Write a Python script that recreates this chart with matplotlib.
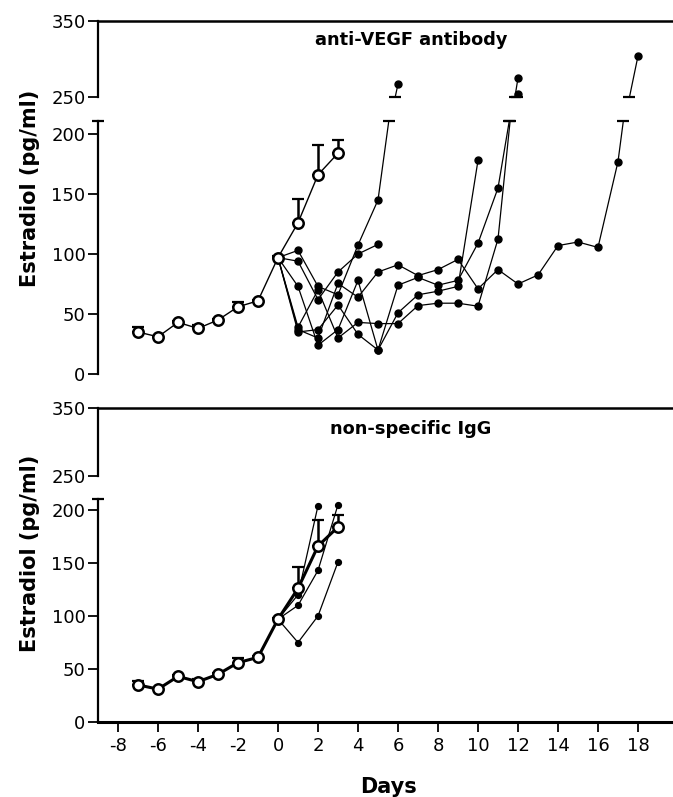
import numpy as np
import matplotlib
matplotlib.use("Agg")
import matplotlib.pyplot as plt

plt.rcParams["axes.unicode_minus"] = False

# control group (mean +/- sem), open circles
ctrl_days = [-7, -6, -5, -4, -3, -2, -1, 0, 1, 2, 3]
ctrl_mean = [35, 31, 43, 38, 45, 56, 61, 97, 126, 166, 184]
ctrl_sem = [4, 1, 1, 2.5, 1, 4, 1, 1, 20, 25, 11]

# anti-VEGF antibody, individual animals (day 0 onwards)
vegf_a = [97, 103, 73, 66, 107.5, 145, 267]
vegf_b = [97, 94, 62, 85, 100, 108]
vegf_c = [97, 73, 24, 37, 78, 20, 74, 80.5, 74, 78, 109, 155, 254]
vegf_d = [97, 39, 70, 30, 43, 42, 42, 57, 59, 59, 56.5, 112.5, 275]
vegf_e = [97, 37, 30, 75.5, 64, 85, 91, 82, 87, 95.5, 71, 87, 75, 82.5, 107, 110, 105.5, 177, 304]
vegf_f = [97, 35, 37, 57.5, 33, 20, 51, 66, 69, 73, 178]

# non-specific IgG, individual animals
igg_a = [97, 120, 204]
igg_b = [97, 110, 143, 205]
igg_c = [97, 75, 100, 151]

W, H = 673, 797
fig = plt.figure(figsize=(W / 100, H / 100), dpi=100)


def rect(top_px, bot_px):
    left = 98
    return [left / W, 1 - bot_px / H, (W - left) / W, (bot_px - top_px) / H]


def crossing(vals, level):
    # x positions where a series passes a given level (going up)
    xs = []
    for i in range(len(vals) - 1):
        y0, y1 = vals[i], vals[i + 1]
        if y0 < level <= y1:
            xs.append(i + (level - y0) / (y1 - y0))
    return xs


def style(ax, lo, hi, ticks, top=False, xaxis=False):
    ax.set_xlim(-9, 19.75)
    ax.set_ylim(lo, hi)
    ax.set_yticks(ticks)
    ax.tick_params(axis="y", direction="out", length=7, width=1.3, labelsize=13, pad=2)
    ax.spines["right"].set_visible(False)
    ax.spines["left"].set_linewidth(1.6)
    ax.spines["top"].set_visible(top)
    ax.spines["top"].set_linewidth(1.8)
    ax.spines["bottom"].set_visible(xaxis)
    ax.spines["bottom"].set_linewidth(2.2)
    ax.patch.set_alpha(0)
    if xaxis:
        ax.set_xticks(range(-8, 19, 2))
        ax.tick_params(axis="x", direction="out", length=7, width=1.3, labelsize=13, pad=4)
    else:
        ax.set_xticks([])


def draw(ax, animals, ms, mean_lw):
    for a in animals:
        ax.plot(range(len(a)), a, color="black", lw=0.9, marker="o", ms=ms,
                mfc="black", mec="black")
    ax.errorbar(ctrl_days, ctrl_mean, yerr=[np.zeros(len(ctrl_sem)), ctrl_sem],
                fmt="none", ecolor="black", elinewidth=1.8, capsize=4, capthick=1.6, zorder=4)
    ax.plot(ctrl_days, ctrl_mean, color="black", lw=mean_lw, marker="o", ms=7.5,
            mfc="white", mec="black", mew=1.8, zorder=5)


panels = [
    dict(animals=[vegf_a, vegf_b, vegf_c, vegf_d, vegf_e, vegf_f], hi=(21, 97), lo=(120.8, 374),
         lotop=211, ms=5, mean_lw=1.0, title="anti-VEGF antibody", title_y=40, ylab_y=188, xaxis=False),
    dict(animals=[igg_a, igg_b, igg_c], hi=(408, 476), lo=(499.4, 722),
         lotop=210, ms=4.2, mean_lw=2.2, title="non-specific IgG", title_y=429, ylab_y=553, xaxis=True),
]

for p in panels:
    ax_hi = fig.add_axes(rect(*p["hi"]))
    ax_lo = fig.add_axes(rect(*p["lo"]))
    style(ax_hi, 250, 350, [250, 350], top=True)
    style(ax_lo, 0, p["lotop"], [0, 50, 100, 150, 200], xaxis=p["xaxis"])
    draw(ax_hi, p["animals"], p["ms"], p["mean_lw"])
    draw(ax_lo, p["animals"], p["ms"], p["mean_lw"])

    # break caps on the axis and on the lines that run through the gap
    ax_lo.plot([-9], [p["lotop"]], marker="_", ms=9, mew=1.6, color="black", clip_on=False)
    for a in p["animals"]:
        for x in crossing(a, p["lotop"]):
            ax_lo.plot([x], [p["lotop"]], marker="_", ms=9, mew=1.6, color="black", clip_on=False)
        for x in crossing(a, 250):
            ax_hi.plot([x], [250], marker="_", ms=9, mew=1.6, color="black", clip_on=False)

    fig.text(411 / W, 1 - p["title_y"] / H, p["title"], ha="center", va="center",
             fontsize=12.8, fontweight="bold")
    fig.text(30 / W, 1 - p["ylab_y"] / H, "Estradiol (pg/ml)", rotation=90,
             ha="center", va="center", fontsize=15, fontweight="bold")

fig.text(389 / W, 1 - 787 / H, "Days", ha="center", va="center", fontsize=15, fontweight="bold")

fig.savefig("out.png", dpi=100)
